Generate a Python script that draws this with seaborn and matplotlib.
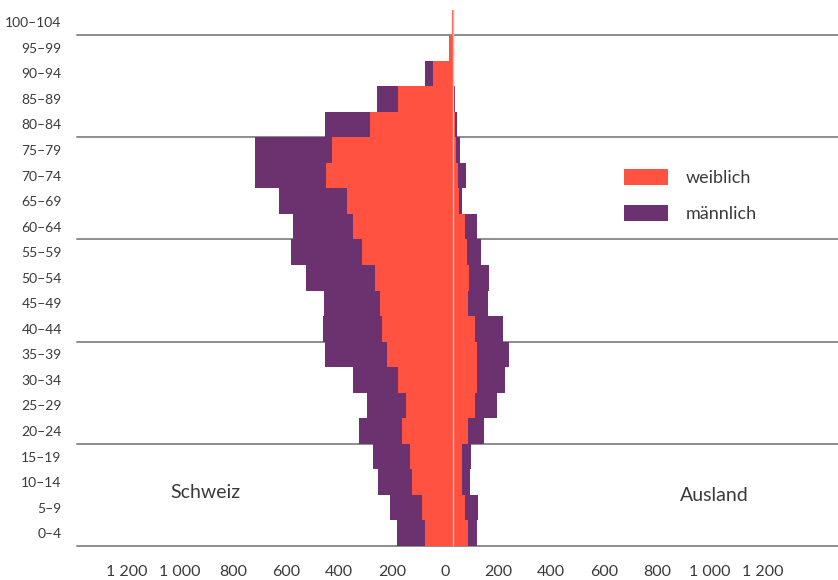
import numpy as np
import pandas as pd
import seaborn as sns
import matplotlib.pyplot as plt
from matplotlib.patches import Patch
from matplotlib.transforms import ScaledTranslation

# Altersgruppen (von jung nach alt)
age_groups = ["0–4", "5–9", "10–14", "15–19", "20–24", "25–29", "30–34",
              "35–39", "40–44", "45–49", "50–54", "55–59", "60–64", "65–69",
              "70–74", "75–79", "80–84", "85–89", "90–94", "95–99", "100–104"]

# Schweizer Bevölkerung
ch_weiblich = [106, 117, 155, 162, 192, 177, 208, 249, 268, 275, 294,
               343, 377, 400, 479, 457, 313, 208, 75, 15, 4]
ch_maennlich = [106, 121, 128, 140, 162, 147, 170, 234, 223, 211, 260,
                268, 226, 257, 268, 291, 170, 79, 30, 0, 0]

# Ausländische Bevölkerung
aus_weiblich = [57, 45, 34, 34, 57, 83, 91, 91, 83, 57, 60,
                53, 45, 23, 19, 11, 8, 4, 2, 2, 0]
aus_maennlich = [34, 49, 30, 34, 60, 83, 106, 121, 106, 75, 75,
                 53, 45, 11, 30, 15, 8, 2, 0, 0, 0]

x_ticks = [-1200, -1000, -800, -600, -400, -200, 0, 200, 400, 600, 800, 1000, 1200]

RED = "#ff5240"
PURPLE = "#6c3270"
TEXT = "#3a3a3a"
GRID = "#8c8c8c"

sns.set_theme(style="white")
plt.rcParams["font.family"] = ["Lato", "DejaVu Sans"]

df = pd.DataFrame({
    "Alter": age_groups,
    "ch_w": -np.array(ch_weiblich),
    "ch_tot": -(np.array(ch_weiblich) + np.array(ch_maennlich)),
    "aus_w": np.array(aus_weiblich),
    "aus_tot": np.array(aus_weiblich) + np.array(aus_maennlich),
})
order = age_groups[::-1]

fig = plt.figure(figsize=(8.38, 5.80), dpi=100)
ax = fig.add_axes([77 / 838, 34 / 580, 761 / 838, 536.5 / 580])

# Männer aussen (gestapelt), Frauen innen
for col, colr in [("ch_tot", PURPLE), ("aus_tot", PURPLE),
                  ("ch_w", RED), ("aus_w", RED)]:
    sns.barplot(data=df, y="Alter", x=col, order=order, orient="h",
                color=colr, saturation=1, width=1.0, errorbar=None,
                linewidth=0, ax=ax, zorder=2)

# Trennlinien alle 20 Jahre
for b in [0.5, 4.5, 8.5, 12.5, 16.5, 20.5]:
    ax.axhline(b, color=GRID, lw=1.4, zorder=1, clip_on=False)

# helle Mittellinie
ax.vlines(0, -0.5, 20.5, color="#ffb4a8", lw=1.0, zorder=3)

ax.set_xlim(-1419, 1453)
ax.set_ylim(20.5, -0.5)
for s in ax.spines.values():
    s.set_visible(False)
ax.set_xlabel("")
ax.set_ylabel("")

ax.set_xticks(x_ticks)
ax.set_xticklabels([f"{abs(t):,}".replace(",", " ") for t in x_ticks])
ax.tick_params(axis="x", length=0, pad=14, labelsize=11.5, colors=TEXT)
ax.tick_params(axis="y", length=0, pad=11, labelsize=10, colors=TEXT)
shift = ScaledTranslation(-8 / 100, 0, fig.dpi_scale_trans)
for lbl in ax.get_xticklabels():
    lbl.set_transform(lbl.get_transform() + shift)

ax.text(-936, 18.42, "Schweiz", ha="center", va="center", fontsize=14, color=TEXT)
ax.text(985, 18.54, "Ausland", ha="center", va="center", fontsize=14, color=TEXT)

handles = [Patch(facecolor=RED, edgecolor="none", label="weiblich"),
           Patch(facecolor=PURPLE, edgecolor="none", label="männlich")]
leg = ax.legend(handles=handles, loc="upper left", bbox_to_anchor=(0.719, 0.703),
                frameon=False, fontsize=13, handlelength=2.45, handleheight=1.0,
                handletextpad=0.95, labelspacing=1.05, borderpad=0, borderaxespad=0)
for t in leg.get_texts():
    t.set_color(TEXT)

fig.savefig("out.png", dpi=100)
